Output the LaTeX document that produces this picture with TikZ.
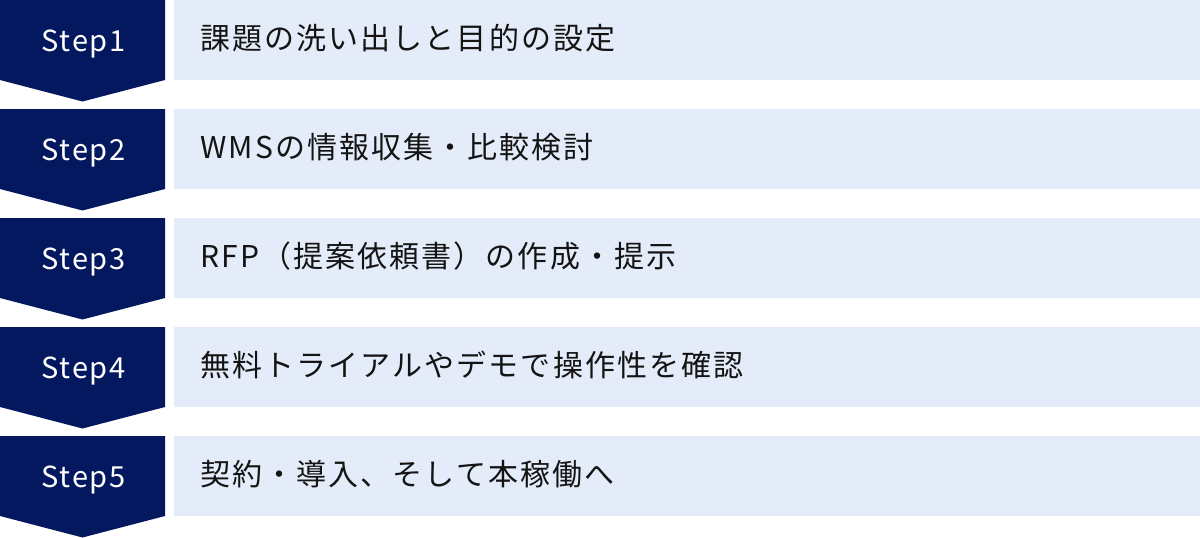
\documentclass[tikz,border=0pt]{standalone}
\usepackage{fontspec}
\setmainfont{Noto Sans CJK JP}
\newfontfamily\jpfont[LetterSpace=7]{Noto Sans CJK JP}
\newfontfamily\stepfont[LetterSpace=6]{Noto Sans CJK JP}
\definecolor{navy}{RGB}{4,24,96}
\definecolor{lightbox}{RGB}{229,236,249}
\definecolor{txt}{RGB}{20,20,20}
\tikzset{
  badge/.style={fill=navy, draw=none},
  panel/.style={fill=lightbox, draw=none},
  steplabel/.style={text=white, anchor=base west, font=\stepfont\fontsize{29}{34}\selectfont, inner sep=0pt},
  desc/.style={text=txt, anchor=base west, font=\jpfont\fontsize{30}{36}\selectfont, inner sep=0pt}
}
\begin{document}
\begin{tikzpicture}[x=1pt,y=-1pt]
\useasboundingbox (0,0) rectangle (1200,538);
\foreach \i/\t in {1/課題の洗い出しと目的の設定,2/WMSの情報収集・比較検討,3/RFP（提案依頼書）の作成・提示,4/無料トライアルやデモで操作性を確認,5/契約・導入、そして本稼働へ}{
  \pgfmathsetmacro{\y}{(\i-1)*109}
  \fill[badge] (0,\y) -- (165,\y) -- (165,\y+80) -- (82.5,\y+101.5) -- (0,\y+80) -- cycle;
  \fill[panel] (174,\y) rectangle (1200,\y+80);
  \node[steplabel] (s\i) at (41.5,\y+51.7) {Step\i};
  \node[desc] (d\i) at (200,\y+49.5) {\t};
}
\end{tikzpicture}
\end{document}
